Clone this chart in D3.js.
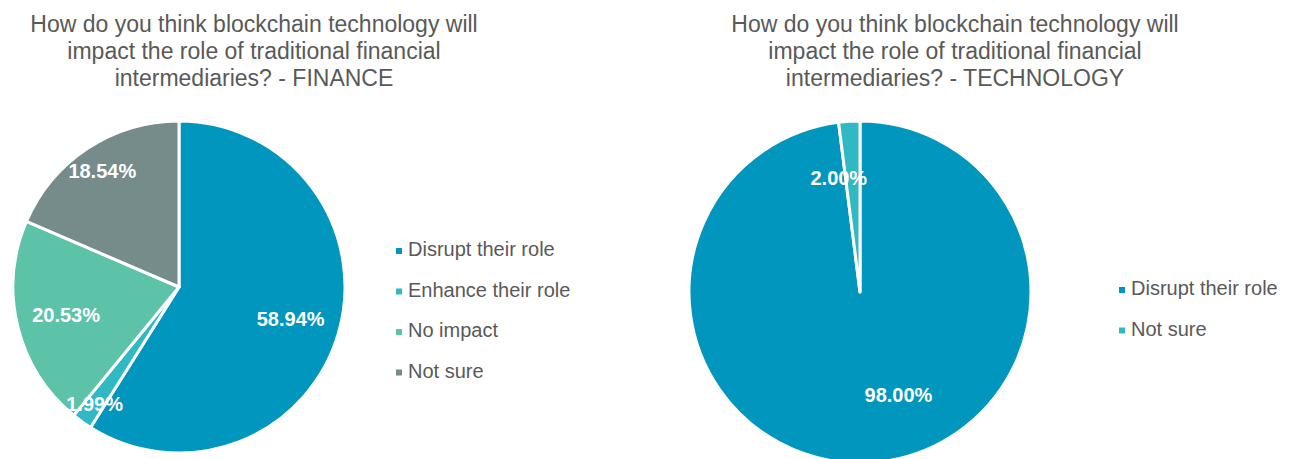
<!DOCTYPE html>
<html>
<head>
<meta charset="utf-8">
<script src="https://cdn.jsdelivr.net/npm/d3@7"></script>
<style>
  html, body { margin: 0; padding: 0; background: #fff; }
  svg { display: block; }
  text { font-family: "Liberation Sans", Arial, sans-serif; }
</style>
</head>
<body>
<svg id="chart" width="1297" height="459"></svg>
<script>
// Survey answers, in percent
const financeCategories = ["Disrupt their role", "Enhance their role", "No impact", "Not sure"];
const financeValues = [58.94, 1.99, 20.53, 18.54];
const financeColors = ["#0196be", "#30b9c3", "#5dc3a8", "#758c8b"];

const techCategories = ["Disrupt their role", "Not sure"];
const techValues = [98.00, 2.00];
const techColors = ["#0196be", "#30b9c3"];

const financeTitle = ["How do you think blockchain technology will",
                      "impact the role of traditional financial",
                      "intermediaries? - FINANCE"];
const techTitle = ["How do you think blockchain technology will",
                   "impact the role of traditional financial",
                   "intermediaries? - TECHNOLOGY"];

const svg = d3.select("#chart");

function drawPanel(opts) {
  const g = svg.append("g");

  // Title
  const title = g.append("text")
    .attr("x", opts.titleX)
    .attr("y", 32)
    .attr("text-anchor", "middle")
    .attr("fill", "#595959")
    .style("font-size", "23px");
  opts.title.forEach((line, i) => {
    title.append("tspan").attr("x", opts.titleX).attr("dy", i === 0 ? 0 : 27).text(line);
  });

  // Pie
  const data = opts.categories.map((c, i) => ({ name: c, value: opts.values[i], color: opts.colors[i] }));
  const pie = d3.pie().sort(null).value(d => d.value);
  const arcs = pie(data);
  const arc = d3.arc().innerRadius(0).outerRadius(opts.r);

  const pg = g.append("g").attr("transform", `translate(${opts.cx},${opts.cy})`);
  pg.selectAll("path.slice")
    .data(arcs)
    .join("path")
    .attr("class", "slice")
    .attr("d", arc)
    .attr("fill", d => d.data.color)
    .attr("stroke", "#fff")
    .attr("stroke-width", 3)
    .attr("stroke-linejoin", "round");

  // Value labels, placed along each slice's bisector
  pg.selectAll("text.val")
    .data(arcs)
    .join("text")
    .attr("class", "val")
    .attr("transform", (d, i) => {
      const a = (d.startAngle + d.endAngle) / 2;
      const rr = opts.r * opts.labelRadius[i];
      const x = Math.sin(a) * rr + opts.labelShift[i][0];
      const y = -Math.cos(a) * rr + opts.labelShift[i][1];
      return `translate(${x},${y})`;
    })
    .attr("text-anchor", "middle")
    .attr("dy", "0.36em")
    .attr("fill", "#fff")
    .style("font-size", "20px")
    .style("font-weight", "bold")
    .text(d => d.data.value.toFixed(2) + "%");

  // Legend
  const lg = g.append("g");
  const rows = lg.selectAll("g")
    .data(data)
    .join("g")
    .attr("transform", (d, i) => `translate(${opts.legendX},${opts.legendY + i * 40.5})`);
  rows.append("rect")
    .attr("x", -12).attr("y", -1)
    .attr("width", 6).attr("height", 6)
    .attr("fill", d => d.color);
  rows.append("text")
    .attr("x", 0)
    .attr("y", 0)
    .attr("dy", "0.35em")
    .attr("fill", "#595959")
    .style("font-size", "20px")
    .text(d => d.name);
}

drawPanel({
  title: financeTitle, titleX: 254,
  categories: financeCategories, values: financeValues, colors: financeColors,
  cx: 179, cy: 287, r: 166,
  labelRadius: [0.70, 0.87, 0.70, 0.84],
  labelShift: [[0, 0], [0, 0], [0, 0], [0, 0]],
  legendX: 408, legendY: 249
});

drawPanel({
  title: techTitle, titleX: 955,
  categories: techCategories, values: techValues, colors: techColors,
  cx: 860, cy: 292, r: 171,
  labelRadius: [0.60, 0.67],
  labelShift: [[32, 0], [-14, 0]],
  legendX: 1131, legendY: 288
});
</script>
</body>
</html>
